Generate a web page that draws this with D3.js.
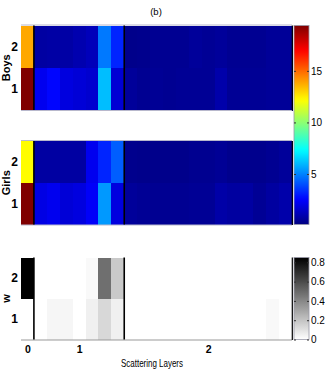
<!DOCTYPE html>
<html><head><meta charset="utf-8">
<script src="https://cdn.jsdelivr.net/npm/d3@7"></script>
<style>
html,body{margin:0;padding:0;background:#fff;}
text{font-family:"Liberation Sans Narrow","Arial Narrow","Liberation Sans",Arial,sans-serif;fill:#000;}
</style></head>
<body>
<svg id="c" width="325" height="374"></svg>
<script>
// ---- data ----
const xLayers = ["0","1","1","1","1","1","1","1","2","2","2","2","2","2","2","2","2","2","2","2","2"];
const xTickLabels = ["0","1","2"];
const rowLabels = ["2","1"];
const boysRow2 = [13.8,0.75,0.8,0.8,1.0,1.2,4.8,3.2,0.3,0.35,0.45,0.45,0.45,0.6,0.5,0.6,0.45,0.45,0.45,0.55,0.55];
const boysRow1 = [19.4,2.2,2.6,1.9,1.75,1.6,6.1,1.7,0.6,0.45,0.5,0.45,0.5,0.5,0.5,0.9,0.5,0.5,0.5,0.55,0.55];
const girlsRow2 = [12.2,0.75,0.75,0.75,0.75,2.2,3.2,4.3,0.35,0.3,0.3,0.3,0.3,0.4,0.4,0.5,0.35,0.35,0.35,0.45,0.6];
const girlsRow1 = [19.4,2.0,2.2,1.75,1.9,2.4,5.4,1.9,0.6,0.5,0.45,0.45,0.45,0.5,0.5,0.85,0.7,0.75,0.5,0.7,0.9];
const wRow2 = [0.85,0,0,0,0,0.02,0.48,0.18,0,0,0,0,0,0,0,0,0,0,0,0,0];
const wRow1 = [0,0,0.03,0.03,0,0.05,0.13,0.05,0,0,0,0,0,0,0,0,0,0,0,0.02,0];
const jetTicks = [5,10,15];
const grayTicks = [0,0.2,0.4,0.6,0.8];
const jetDomain = [0.1,19.4];
const grayDomain = [0,0.85];

// ---- setup ----
const svg = d3.select("#c");
const X0 = 21, X1 = 292;
const x = d3.scaleBand().domain(d3.range(xLayers.length)).range([X0, X1]).padding(0);

const jetStops = [0,0.125,0.375,0.625,0.875,1];
const jetCols = ["#000080","#0000ff","#00ffff","#ffff00","#ff0000","#800000"];
const jetT = d3.scaleLinear().domain(jetStops).range(jetCols).interpolate(d3.interpolateRgb).clamp(true);
const jetNorm = d3.scaleLinear().domain(jetDomain).range([0,1]).clamp(true);
const jet = v => jetT(jetNorm(v));
const gray = d3.scaleLinear().domain(grayDomain).range(["#ffffff","#000000"]).clamp(true);

const panels = [
  {label:"Boys", rows:[boysRow2, boysRow1], y0:25.5, y1:110, color:jet, frame:true},
  {label:"Girls", rows:[girlsRow2, girlsRow1], y0:141, y1:224.5, color:jet, frame:true},
  {label:"w", rows:[wRow2, wRow1], y0:257.5, y1:339.5, color:gray, frame:false}
];
const fontStack = '"Liberation Sans Narrow","Arial Narrow","Liberation Sans",Arial,sans-serif';

panels.forEach(p => {
  const y = d3.scaleBand().domain(rowLabels).range([p.y0, p.y1]).padding(0);
  const g = svg.append("g");
  p.rows.forEach((vals, ri) => {
    g.selectAll(null).data(vals).enter().append("rect")
      .attr("x", (d,i) => x(i))
      .attr("y", y(rowLabels[ri]))
      .attr("width", x.bandwidth() + 1)
      .attr("height", y.bandwidth() + 0.5)
      .attr("shape-rendering","crispEdges")
      .attr("fill", d => p.color(d));
  });
  if (p.frame) {
    g.append("line").attr("x1",X0).attr("x2",X1).attr("y1",p.y0-0.5).attr("y2",p.y0-0.5)
      .attr("stroke","#b8b8cc").attr("stroke-width",1);
  }
  g.append("line").attr("x1",X0).attr("x2",X1).attr("y1",p.y1+0.5).attr("y2",p.y1+0.5)
    .attr("stroke", p.frame ? "#b8b8cc" : "#999").attr("stroke-width",1);
  [1, 8].forEach(i => {
    g.append("line").attr("x1",x(i)).attr("x2",x(i)).attr("y1",p.y0).attr("y2",p.y1)
      .attr("stroke","#000").attr("stroke-width",1.6);
  });
  g.append("line").attr("x1",X1+0.3).attr("x2",X1+0.3).attr("y1",p.y0).attr("y2",p.y1+0.5)
    .attr("stroke","#000").attr("stroke-width",1.2);
  const ya = d3.axisLeft(y).tickSize(0).tickPadding(0);
  const ag = g.append("g").attr("transform",`translate(${X0-3},0)`).call(ya);
  ag.select(".domain").remove();
  ag.selectAll("text").attr("font-size","12px").attr("dy","0.35em")
    .style("font-family",fontStack).style("font-weight","600");
  g.append("text").attr("transform",`translate(10,${(p.y0+p.y1)/2}) rotate(-90)`)
    .attr("text-anchor","middle").attr("font-size","11px").attr("font-weight","bold").text(p.label);
});

const groups = xTickLabels.map(lbl => {
  const idx = xLayers.map((d,i)=>d===lbl?i:-1).filter(i=>i>=0);
  return {lbl, c:(x(idx[0]) + x(idx[idx.length-1]) + x.bandwidth())/2};
});
const xs = d3.scaleOrdinal().domain(xTickLabels).range(groups.map(g=>g.c));
const xa = d3.axisBottom(xs).tickSize(0).tickPadding(0);
const xg = svg.append("g").attr("transform","translate(0,346)").call(xa);
xg.select(".domain").remove();
xg.selectAll("text").attr("font-size","10.5px").attr("font-weight","bold").style("font-family",fontStack);

svg.append("text").attr("x",152).attr("y",367).attr("text-anchor","middle")
  .attr("font-size","11px").attr("textLength",62).attr("lengthAdjust","spacingAndGlyphs")
  .text("Scattering Layers");

svg.append("text").attr("x",156).attr("y",15).attr("text-anchor","middle")
  .attr("font-size","9.5px").text("(b)");

// ---- colorbars ----
const defs = svg.append("defs");
function colorbar(id, scaleFn, domain, y0, y1, ticks, fmt) {
  const cx0 = 294, cx1 = 309;
  const s = d3.scaleLinear().domain(domain).range([y1, y0]);
  const grad = defs.append("linearGradient").attr("id",id)
    .attr("x1","0").attr("y1","1").attr("x2","0").attr("y2","0");
  d3.range(0,1.0001,0.02).forEach(t => {
    const v = domain[0] + t*(domain[1]-domain[0]);
    grad.append("stop").attr("offset",t).attr("stop-color",scaleFn(v));
  });
  svg.append("rect").attr("x",cx0).attr("y",y0).attr("width",cx1-cx0).attr("height",y1-y0)
    .attr("fill",`url(#${id})`).attr("stroke","#9a9aa8").attr("stroke-width",0.8);
  const ax = d3.axisRight(s).tickValues(ticks).tickSize(2).tickPadding(2).tickFormat(fmt);
  const ag = svg.append("g").attr("transform",`translate(${cx0},0)`).call(ax);
  ag.select(".domain").remove();
  ag.selectAll("line").attr("stroke","#333");
  ag.selectAll("text").attr("x", cx1-cx0+2).attr("font-size","10px").style("font-family",fontStack);
  const ag2 = svg.append("g").attr("transform",`translate(${cx1},0)`).call(d3.axisLeft(s).tickValues(ticks).tickSize(2).tickFormat(""));
  ag2.select(".domain").remove();
  ag2.selectAll("line").attr("stroke","#333");
}
colorbar("gj", jet, jetDomain, 25.5, 224.5, jetTicks, d3.format("d"));
colorbar("gg", gray, grayDomain, 257.5, 339.5, grayTicks, d => d===0 ? "0" : d3.format(".1f")(d));
</script>
</body></html>
